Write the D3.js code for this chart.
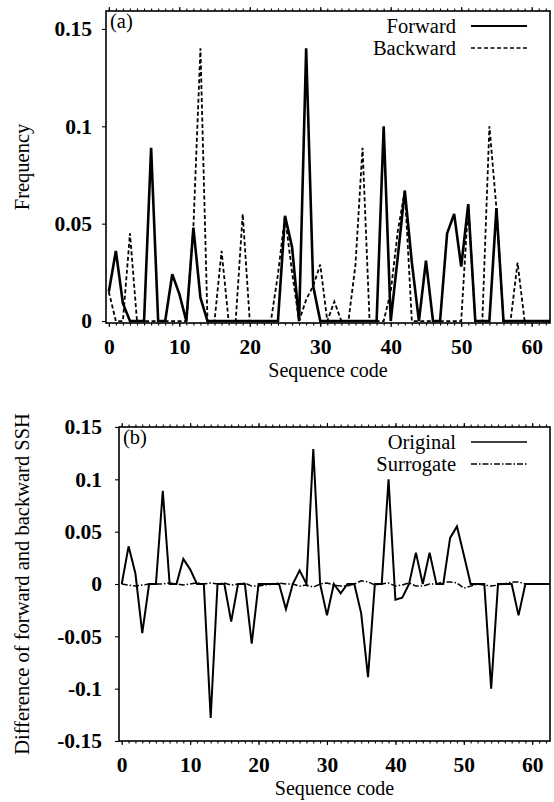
<!DOCTYPE html>
<html><head><meta charset="utf-8">
<script src="https://cdn.jsdelivr.net/npm/d3@7/dist/d3.min.js"></script>
<style>
body{margin:0;background:#fff}
svg{display:block}
text{font-family:"Liberation Serif","Times New Roman",serif;fill:#000}
</style>
</head><body>
<svg id="c" width="554" height="802"></svg>
<script>
// ---- data ----
const codes = d3.range(64);
const forward = [0.015,0.036,0.009,0,0,0,0.089,0,0,0.024,0.014,0,0.048,0.012,0,0,
  0,0,0,0,0,0,0,0,0,0.054,0.038,0,0.140,0.018,0,0,
  0,0,0,0,0,0,0,0.100,0,0.033,0.067,0.030,0,0.031,0,0,
  0.045,0.055,0.028,0.060,0,0,0,0.058,0,0,0,0,0,0,0,0];
const backward = [0.015,0,0,0.045,0,0,0,0,0,0,0,0,0.048,0.140,0,0,
  0.036,0,0,0.055,0,0,0,0,0.024,0.054,0.025,0,0.011,0.018,0.029,0,
  0.010,0,0,0.029,0.089,0,0,0,0.015,0.046,0.067,0,0,0,0,0,
  0,0,0,0.060,0,0,0.100,0.058,0,0,0.030,0,0,0,0,0];
const original = [0,0.036,0.010,-0.047,0,0,0.089,0,0,0.024,0.014,0,0,-0.128,0,0,
  -0.036,0,0,-0.057,0,0,0,0,-0.024,0,0.013,0,0.129,0,-0.030,0,
  -0.009,0,0,-0.028,-0.089,0,0,0.100,-0.015,-0.013,0,0.030,0,0.030,0,0,
  0.044,0.055,0.028,0,0,0,-0.100,0,0,0,-0.030,0,0,0,0,0];
const surrogate = [0,-0.001,-0.002,-0.001,0,0,0,0.001,0,-0.001,0,0.001,0,0.001,0,0.001,
  -0.001,0,0.001,-0.002,-0.002,-0.001,0,0.001,0,0,-0.002,-0.001,-0.003,0,0.001,-0.001,
  -0.002,-0.002,0,0.003,0.002,-0.001,0,0.001,-0.002,-0.001,0.001,-0.002,-0.002,0,0,0.002,
  0.002,0.001,-0.004,-0.002,0,-0.001,-0.002,-0.001,0,0.002,0.002,0,0,0,0,0];
const xTickValues = [0,10,20,30,40,50,60];
const yTicksA = [0,0.05,0.1,0.15];
const yTicksB = [-0.15,-0.1,-0.05,0,0.05,0.1,0.15];
const seriesA = [{name:"Forward", values:forward, dash:null, w:2.6},
                 {name:"Backward", values:backward, dash:"4,2.5", w:1.8}];
const seriesB = [{name:"Original", values:original, dash:null, w:2},
                 {name:"Surrogate", values:surrogate, dash:"6,2,1.5,2", w:1.5}];

const FONT = '"Liberation Serif","Times New Roman",serif';
const svg = d3.select("#c");

function panel(cfg){
  const {L,R,T,B,ydom,yticks,series,tag,ytitle,labelGap,id} = cfg;
  const x = d3.scaleLinear().domain([-0.4,62.6]).range([L,R]);
  const y = d3.scaleLinear().domain(ydom).range([B,T]);
  const g = svg.append("g");
  g.append("clipPath").attr("id",id).append("rect")
    .attr("x",L).attr("y",T).attr("width",R-L).attr("height",B-T);

  // minor ticks bottom/top
  const minor = d3.range(0,63);
  g.append("g").attr("transform",`translate(0,${B})`)
    .call(d3.axisBottom(x).tickValues(minor).tickSize(2.5).tickFormat(""))
    .call(s=>s.select(".domain").remove());
  g.append("g").attr("transform",`translate(0,${T})`)
    .call(d3.axisTop(x).tickValues(minor).tickSize(2.5).tickFormat(""))
    .call(s=>s.select(".domain").remove());
  g.append("g").attr("transform",`translate(0,${T})`)
    .call(d3.axisTop(x).tickValues(xTickValues).tickSize(4).tickFormat(""))
    .call(s=>s.select(".domain").remove());
  const xa = g.append("g").attr("transform",`translate(0,${B})`)
    .call(d3.axisBottom(x).tickValues(xTickValues).tickSize(4).tickPadding(12).tickFormat(d=>String(d)));
  xa.attr("font-family",FONT).attr("font-size",21.5).attr("font-weight","bold");
  xa.select(".domain").remove();
  xa.selectAll("text").attr("fill","#000");

  const ya = g.append("g").attr("transform",`translate(${L},0)`)
    .call(d3.axisLeft(y).tickValues(yticks).tickSize(4).tickPadding(labelGap).tickFormat(d=>String(d)));
  ya.attr("font-family",FONT).attr("font-size",21.5).attr("font-weight","bold");
  ya.select(".domain").remove();
  ya.selectAll("text").attr("fill","#000");
  g.selectAll(".tick line").attr("stroke","#000").attr("stroke-width",1.1);

  // frame
  g.append("rect").attr("x",L).attr("y",T).attr("width",R-L).attr("height",B-T)
    .attr("fill","none").attr("stroke","#000").attr("stroke-width",1.6);

  // lines
  const line = d3.line().x((d,i)=>x(codes[i])).y(d=>y(d));
  series.forEach(s=>{
    g.append("path").attr("d",line(s.values)).attr("clip-path",`url(#${id})`)
      .attr("fill","none").attr("stroke","#000").attr("stroke-width",s.w)
      .attr("stroke-linejoin","miter").attr("stroke-dasharray",s.dash);
  });

  // legend
  series.forEach((s,k)=>{
    const ly = T+15+k*22;
    g.append("text").attr("x",456).attr("y",ly+7).attr("text-anchor","end")
      .attr("font-size",20.5).text(s.name);
    g.append("line").attr("x1",471).attr("x2",527).attr("y1",ly).attr("y2",ly)
      .attr("stroke","#000").attr("stroke-width",s.w>2?2.2:1.6).attr("stroke-dasharray",s.dash);
  });

  // tag
  g.append("text").attr("x",L+4).attr("y",T+17).attr("font-size",20.5).text(tag);

  // titles
  g.append("text").attr("x",(L+R)/2).attr("y",B+54).attr("text-anchor","middle")
    .attr("font-size",20).text("Sequence code");
  g.append("text").attr("transform",`translate(29,${(T+B)/2}) rotate(-90)`)
    .attr("text-anchor","middle").attr("font-size",20.5).text(ytitle);
}

panel({id:"ca",L:106,R:550,T:11,B:323,ydom:[-0.001,0.1592],yticks:yTicksA,series:seriesA,
  tag:"(a)",ytitle:"Frequency",labelGap:10});
panel({id:"cb",L:119,R:550,T:427,B:741,ydom:[-0.15,0.15],yticks:yTicksB,series:seriesB,
  tag:"(b)",ytitle:"Difference of forward and backward SSH",labelGap:13});
</script>
</body></html>
